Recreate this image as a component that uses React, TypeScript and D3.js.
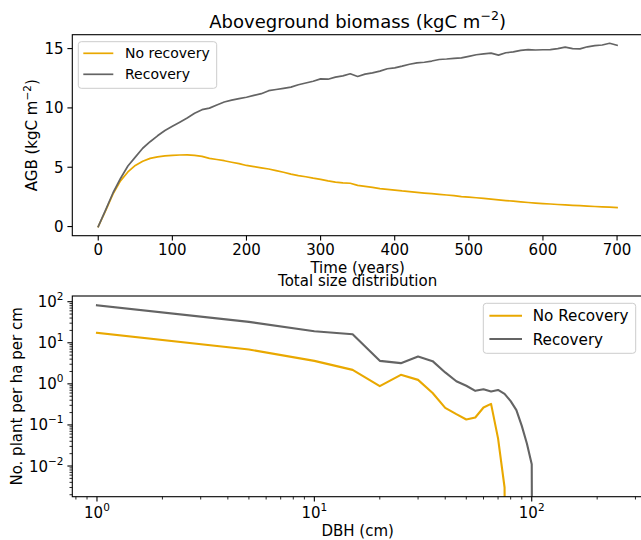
import React from "react";
import * as d3 from "d3";

// ---------- Data ----------
const years = [0,10,20,30,40,50,60,70,80,90,100,110,120,130,140,150,160,170,180,190,200,210,220,230,240,250,260,270,280,290,300,310,320,330,340,350,360,370,380,390,400,410,420,430,440,450,460,470,480,490,500,510,520,530,540,550,560,570,580,590,600,610,620,630,640,650,660,670,680,690,700];
const agbNoRecovery = [0,1.35,2.75,3.85,4.6,5.15,5.5,5.75,5.88,5.95,6.0,6.03,6.05,6.0,5.92,5.75,5.65,5.55,5.42,5.3,5.15,5.05,4.95,4.85,4.72,4.58,4.42,4.3,4.2,4.08,3.98,3.85,3.75,3.68,3.65,3.47,3.38,3.3,3.2,3.13,3.07,3.0,2.95,2.88,2.82,2.77,2.72,2.66,2.6,2.53,2.48,2.43,2.38,2.32,2.25,2.19,2.14,2.08,2.03,1.98,1.94,1.9,1.86,1.82,1.79,1.76,1.72,1.69,1.66,1.63,1.6];
const agbRecovery = [0,1.4,2.85,4.05,5.1,5.85,6.6,7.15,7.65,8.1,8.45,8.8,9.15,9.55,9.85,9.98,10.25,10.5,10.65,10.78,10.9,11.05,11.2,11.45,11.55,11.65,11.75,11.95,12.1,12.25,12.45,12.42,12.6,12.7,12.88,12.65,12.85,12.95,13.1,13.3,13.38,13.52,13.68,13.8,13.85,13.95,14.08,14.12,14.18,14.22,14.35,14.48,14.55,14.62,14.45,14.65,14.72,14.85,14.92,14.88,14.9,14.92,15.0,15.12,15.0,14.98,15.15,15.25,15.3,15.45,15.28];

const dbh = [1,5,10,15,20,25,30,35,40,45,50,55,60,65,70,75,80,85,90,95,100,105];
const sizeNoRecovery = [17.4,6.87,3.63,2.19,0.88,1.66,1.25,0.6,0.26,0.183,0.136,0.152,0.266,0.326,0.047,0.003,0,0,0,0,0,0];
const sizeRecovery = [82,32.3,19.1,16.2,3.63,3.19,4.64,3.57,1.9,1.16,0.9,0.676,0.74,0.65,0.71,0.57,0.38,0.229,0.095,0.0354,0.011,0];

const topXTicks = [0,100,200,300,400,500,600,700];
const topYTicks = [0,5,10,15];
const botXMajor = [1,10,100];
const botYMajor = [100,10,1,0.1,0.01];

const topLegend = ["No recovery", "Recovery"];
const botLegend = ["No Recovery", "Recovery"];

const ORANGE = "#E9A800";
const GRAY = "#646464";
const FONT = "DejaVu Sans, sans-serif";

// ---------- Layout ----------
const W = 641, H = 540;
const L = 72.3, R = 643;
const T1 = 34.7, B1 = 235.7;
const T2 = 296, B2 = 496.7;

const xTop = d3.scaleLinear().domain([-35, 735]).range([L, R]);
const yTop = d3.scaleLinear().domain([-0.77, 16.17]).range([B1, T1]);
const xBot = d3.scaleLog().domain([0.77, 325]).range([L, R]);
const yBot = d3.scaleLog().domain([0.00179, 137.7]).range([B2, T2]);

const FLOOR = 1e-30;

function minorLog(domain: number[]) {
  const out: number[] = [];
  for (let e = -4; e <= 3; e++) {
    for (let m = 2; m <= 9; m++) {
      const v = m * Math.pow(10, e);
      if (v >= domain[0] && v <= domain[1]) out.push(v);
    }
  }
  return out;
}

function Pow10({ x, y, exp, anchor }: { x: number; y: number; exp: number; anchor: string }) {
  const e = exp < 0 ? "\u2212" + Math.abs(exp) : String(exp);
  return (
    <text x={x} y={y} textAnchor={anchor} fontSize={15} fontFamily={FONT} fill="#000">
      10<tspan fontSize={10.5} dy={-7}>{e}</tspan>
    </text>
  );
}

export default function App() {
  const lineTop = (vals: number[]) =>
    d3.line<number>().x((_, i) => xTop(years[i])).y((v) => yTop(v))(vals) || "";
  const lineBot = (vals: number[]) =>
    d3.line<number>().x((_, i) => xBot(dbh[i])).y((v) => yBot(v > 0 ? v : FLOOR))(vals) || "";

  const botXMinor = minorLog(xBot.domain() as number[]);
  const botYMinor = minorLog(yBot.domain() as number[]);

  return (
    <svg width={W} height={H} viewBox={`0 0 ${W} ${H}`} style={{ display: "block", position: "absolute", left: 0, top: 0, background: "#fff" }}>
      <defs>
        <clipPath id="c1"><rect x={L} y={T1} width={R - L} height={B1 - T1} /></clipPath>
        <clipPath id="c2"><rect x={L} y={T2} width={R - L} height={B2 - T2} /></clipPath>
      </defs>
      <rect x={0} y={0} width={W} height={H} fill="#fff" />

      {/* ---------- Top chart ---------- */}
      <text x={(L + R) / 2} y={28.3} textAnchor="middle" fontSize={18} fontFamily={FONT} fill="#000">
        Aboveground biomass (kgC m<tspan fontSize={12.6} dy={-8}>{"\u2212"}2</tspan><tspan dy={8}>)</tspan>
      </text>
      <g clipPath="url(#c1)" fill="none" strokeLinejoin="round" strokeLinecap="square">
        <path d={lineTop(agbNoRecovery)} stroke={ORANGE} strokeWidth={1.7} />
        <path d={lineTop(agbRecovery)} stroke={GRAY} strokeWidth={1.7} />
      </g>
      <rect x={L} y={T1} width={R - L} height={B1 - T1} fill="none" stroke="#000" strokeWidth={1.1} />
      {topXTicks.map((t) => (
        <g key={"tx" + t}>
          <line x1={xTop(t)} x2={xTop(t)} y1={B1} y2={B1 + 4.9} stroke="#000" strokeWidth={1.1} />
          <text x={xTop(t)} y={255} textAnchor="middle" fontSize={15} fontFamily={FONT}>{t}</text>
        </g>
      ))}
      {topYTicks.map((t) => (
        <g key={"ty" + t}>
          <line x1={L - 4.9} x2={L} y1={yTop(t)} y2={yTop(t)} stroke="#000" strokeWidth={1.1} />
          <text x={63.5} y={yTop(t) + 5.5} textAnchor="end" fontSize={15} fontFamily={FONT}>{t}</text>
        </g>
      ))}
      <text x={(L + R) / 2} y={273.3} textAnchor="middle" fontSize={15} fontFamily={FONT}>Time (years)</text>
      <text transform={`translate(36.5, ${(T1 + B1) / 2}) rotate(-90)`} textAnchor="middle" fontSize={15} fontFamily={FONT}>
        AGB (kgC m<tspan fontSize={10.5} dy={-6}>{"\u2212"}2</tspan><tspan dy={6}>)</tspan>
      </text>
      {/* top legend */}
      <g>
        <rect x={78.3} y={41.7} width={138.4} height={46.6} rx={3} fill="#fff" fillOpacity={0.8} stroke="#cccccc" strokeWidth={1} />
        {topLegend.map((s, i) => (
          <g key={s}>
            <line x1={83.3} x2={113.3} y1={53.3 + i * 21} y2={53.3 + i * 21} stroke={i === 0 ? ORANGE : GRAY} strokeWidth={1.7} />
            <text x={125} y={53.3 + i * 21 + 5} fontSize={14} fontFamily={FONT}>{s}</text>
          </g>
        ))}
      </g>

      {/* ---------- Bottom chart ---------- */}
      <text x={(L + R) / 2} y={286} textAnchor="middle" fontSize={15} fontFamily={FONT}>Total size distribution</text>
      <g clipPath="url(#c2)" fill="none" strokeLinejoin="round" strokeLinecap="square">
        <path d={lineBot(sizeNoRecovery)} stroke={ORANGE} strokeWidth={2.1} />
        <path d={lineBot(sizeRecovery)} stroke={GRAY} strokeWidth={2.1} />
      </g>
      <rect x={L} y={T2} width={R - L} height={B2 - T2} fill="none" stroke="#000" strokeWidth={1.1} />
      {botXMajor.map((t, i) => (
        <g key={"bx" + t}>
          <line x1={xBot(t)} x2={xBot(t)} y1={B2} y2={B2 + 4.9} stroke="#000" strokeWidth={1.1} />
          <Pow10 x={xBot(t)} y={518.3} exp={i} anchor="middle" />
        </g>
      ))}
      {botXMinor.map((t) => (
        <line key={"bxm" + t} x1={xBot(t)} x2={xBot(t)} y1={B2} y2={B2 + 2.8} stroke="#000" strokeWidth={0.85} />
      ))}
      {botYMajor.map((t) => (
        <g key={"by" + t}>
          <line x1={L - 4.9} x2={L} y1={yBot(t)} y2={yBot(t)} stroke="#000" strokeWidth={1.1} />
          <Pow10 x={63.5} y={yBot(t) + 5.5} exp={Math.round(Math.log10(t))} anchor="end" />
        </g>
      ))}
      {botYMinor.map((t) => (
        <line key={"bym" + t} x1={L - 2.8} x2={L} y1={yBot(t)} y2={yBot(t)} stroke="#000" strokeWidth={0.85} />
      ))}
      <text x={(L + R) / 2} y={536} textAnchor="middle" fontSize={15} fontFamily={FONT}>DBH (cm)</text>
      <text transform={`translate(22, ${(T2 + B2) / 2}) rotate(-90)`} textAnchor="middle" fontSize={15} fontFamily={FONT}>No. plant per ha per cm</text>
      {/* bottom legend */}
      <g>
        <rect x={483.3} y={303.3} width={152.4} height={50} rx={3} fill="#fff" fillOpacity={0.8} stroke="#cccccc" strokeWidth={1} />
        {botLegend.map((s, i) => (
          <g key={s}>
            <line x1={489.4} x2={522} y1={315.7 + i * 23.3} y2={315.7 + i * 23.3} stroke={i === 0 ? ORANGE : GRAY} strokeWidth={2.1} />
            <text x={532.7} y={315.7 + i * 23.3 + 5.5} fontSize={15.2} fontFamily={FONT}>{s}</text>
          </g>
        ))}
      </g>
    </svg>
  );
}
